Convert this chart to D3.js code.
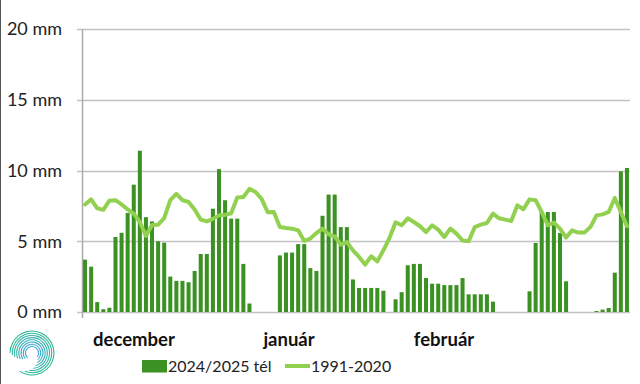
<!DOCTYPE html>
<html><head><meta charset="utf-8">
<script src="https://cdn.jsdelivr.net/npm/d3@7"></script>
<style>body{margin:0;background:#fff}svg{display:block}</style>
</head><body>
<svg id="c" width="640" height="384"></svg>
<script>
const months = ["december", "január", "február"];
const monthDays = [31, 31, 28];
const yTicks = [0, 5, 10, 15, 20];
const yTickLabels = ["0 mm", "5 mm", "10 mm", "15 mm", "20 mm"];
const seriesNames = ["2024/2025 tél", "1991-2020"];

const precipDec = [3.7,3.2,0.7,0.2,0.3,5.3,5.6,7.0,9.0,11.4,6.7,6.4,5.0,4.9,2.5,2.2,2.2,2.1,2.9,4.1,4.1,7.3,10.1,7.9,6.6,6.6,3.4,0.6,0,0,0];
const precipJan = [0,4.0,4.2,4.2,4.8,4.8,3.1,2.9,6.8,8.3,8.3,6.0,6.0,2.3,1.7,1.7,1.7,1.7,1.5,0,0.9,1.4,3.3,3.4,3.4,2.4,2.0,2.0,1.9,1.9,1.9];
const precipFeb = [2.4,1.25,1.25,1.25,1.25,0.73,0,0,0,0,0,1.46,4.88,7.07,7.07,7.07,5.58,2.17,0,0,0,0,0.07,0.17,0.28,2.78,9.94,10.18];

const normalDec = [7.6,7.96,7.33,7.22,7.87,7.9,7.6,7.25,6.95,6.36,5.38,6.15,6.17,6.63,7.9,8.35,7.9,7.78,7.25,6.53,6.4,6.58,6.83,6.86,6.98,8.1,8.13,8.7,8.48,8.0,7.05];
const normalJan = [7.07,6.0,5.94,5.89,5.77,5.02,5.19,5.58,5.89,5.49,5.35,4.76,4.95,4.36,3.89,3.35,3.94,3.58,4.36,5.23,6.34,6.13,6.62,6.36,6.06,5.65,6.13,5.82,5.3,5.89,5.54];
const normalFeb = [5.05,5.0,6.0,6.17,6.29,6.95,6.62,6.53,6.43,7.54,7.26,7.96,7.9,7.07,6.13,6.32,5.89,5.26,5.77,5.61,5.61,6.0,6.83,6.9,7.07,8.06,7.07,6.06];

const precip = precipDec.concat(precipJan, precipFeb);
const normal = normalDec.concat(normalJan, normalFeb);
const nDays = precip.length;
const idx = d3.range(nDays);

const svg = d3.select("#c");
const L = 82, R = 630, T = 29, B = 312;
const x = d3.scaleBand().domain(idx).range([L, R]).paddingInner(0.34).paddingOuter(0.17);
const xl = d3.scaleLinear().domain([0, nDays]).range([L, R]);
const y = d3.scaleLinear().domain([0, 20]).range([B, T]);

const gridColor = "#c3c3c3";
// horizontal gridlines
svg.append("g").selectAll("line").data(yTicks).join("line")
  .attr("x1", L - 5).attr("x2", R)
  .attr("y1", d => Math.round(y(d)) + 0.5).attr("y2", d => Math.round(y(d)) + 0.5)
  .attr("stroke", gridColor).attr("stroke-width", 1.5);
// month boundaries + right frame
const bounds = [0].concat(d3.cumsum(monthDays));
svg.append("g").selectAll("line").data(bounds).join("line")
  .attr("x1", d => Math.round(xl(d)) + 0.5).attr("x2", d => Math.round(xl(d)) + 0.5)
  .attr("y1", T).attr("y2", B + 6)
  .attr("stroke", (d, i) => i === 0 ? "#ababab" : gridColor).attr("stroke-width", 1.5);

// y labels
svg.append("g").selectAll("text").data(yTicks).join("text")
  .attr("x", 62).attr("y", d => y(d)).attr("dy", "0.36em")
  .attr("text-anchor", "end")
  .attr("font-family", "Lato, 'Noto Sans', sans-serif").attr("font-size", 18)
  .attr("fill", "#222").text((d, i) => yTickLabels[i]);

// bars
svg.append("g").selectAll("rect").data(precip).join("rect")
  .attr("x", (d, i) => x(i)).attr("width", x.bandwidth())
  .attr("y", d => y(d)).attr("height", d => B - y(d))
  .attr("fill", "#3b9222");

// normal line
const line = d3.line().x((d, i) => x(i) + x.bandwidth() / 2).y(d => y(d));
svg.append("path").datum(normal).attr("d", line)
  .attr("fill", "none").attr("stroke", "#92d050").attr("stroke-width", 4)
  .attr("stroke-linejoin", "round").attr("stroke-linecap", "round");

// month labels
const monthLabelX = [134, 289, 444];
svg.append("g").selectAll("text").data(months).join("text")
  .attr("x", (d, i) => monthLabelX[i]).attr("y", 346)
  .attr("text-anchor", "middle")
  .attr("font-family", "Lato, 'Noto Sans', sans-serif").attr("font-weight", "bold").attr("font-size", 18.5)
  .attr("fill", "#111").text(d => d);

// legend
const lg = svg.append("g").attr("font-family", "Lato, 'Noto Sans', sans-serif").attr("font-size", 16).attr("fill", "#222");
lg.append("rect").attr("x", 142).attr("y", 360).attr("width", 25).attr("height", 12.5).attr("fill", "#3b9222");
lg.append("text").attr("x", 168).attr("y", 372).text(seriesNames[0]);
lg.append("line").attr("x1", 285).attr("x2", 310).attr("y1", 366).attr("y2", 366)
  .attr("stroke", "#92d050").attr("stroke-width", 4);
lg.append("text").attr("x", 311).attr("y", 372).text(seriesNames[1]);

// left edge line
svg.append("line").attr("x1", 0.5).attr("x2", 0.5).attr("y1", 0).attr("y2", 384).attr("stroke", "#555").attr("stroke-width", 1);

// logo: spiral arcs
const logo = svg.append("g").attr("transform", "translate(32,353)");
const grad = d3.interpolateRgb("#3fa6d6", "#2dbb8f");
const nArc = 8;
for (let k = 0; k < nArc; k++) {
  const r = 6 + k * 2.2;
  const a0 = -2.4 + k * 0.12, a1 = 2.2 + k * 0.22;
  logo.append("path")
    .attr("d", d3.arc().innerRadius(r).outerRadius(r + 1.1).startAngle(a0).endAngle(a1)())
    .attr("fill", grad(k / (nArc - 1)));
}
</script>
</body></html>
